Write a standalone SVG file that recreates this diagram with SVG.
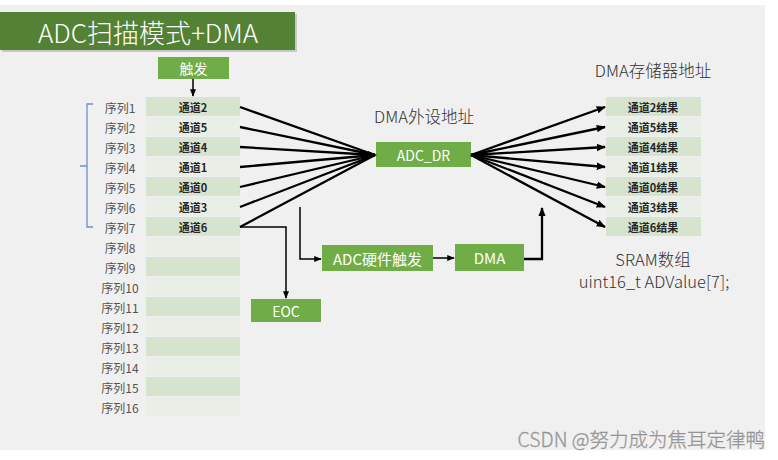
<svg xmlns="http://www.w3.org/2000/svg" width="778" height="460" viewBox="0 0 778 460">
<style>
.bg{fill:#f0f0f0}
.gbox{fill:#70ad47}
.wt{fill:#ffffff;font-family:"Noto Sans CJK SC","Liberation Sans",sans-serif;text-anchor:middle;dominant-baseline:central}
.lbl{fill:#555555;font-family:"Noto Sans CJK SC","Liberation Sans",sans-serif;font-size:12px;text-anchor:middle;dominant-baseline:central}
.cell{fill:#262626;font-family:"Noto Sans CJK SC","Liberation Sans",sans-serif;font-size:11px;font-weight:bold;text-anchor:middle;dominant-baseline:central}
.dark{fill:#d5e3cf}
.light{fill:#e9efe6}
.cap{fill:#333333;font-family:"Noto Sans CJK SC","Liberation Sans",sans-serif;font-size:16.5px;font-weight:300;text-anchor:middle}
.wm{fill:#a0a0a0;font-family:"Noto Sans CJK SC","Liberation Sans",sans-serif;font-size:19.5px;font-weight:300;text-anchor:end;stroke:#8a8a8a;stroke-width:0.3}
.ln{stroke:#000;stroke-width:2.3;fill:none}
.ln1{stroke:#000;stroke-width:1.5;fill:none}
</style>
<defs>
<marker id="ah" viewBox="0 0 10 10" refX="9" refY="5" markerWidth="4" markerHeight="4" orient="auto" markerUnits="strokeWidth">
<path d="M0,1 L10,5 L0,9 z" fill="#000"/>
</marker>
<marker id="ah2" viewBox="0 0 10 10" refX="9" refY="5" markerWidth="5" markerHeight="5" orient="auto" markerUnits="strokeWidth">
<path d="M0,1 L10,5 L0,9 z" fill="#000"/>
</marker>
</defs>
<rect x="0" y="0" width="778" height="460" fill="#ffffff"/>
<rect class="bg" x="0" y="5" width="765" height="445"/>

<g id="title">
<rect x="2" y="14" width="295" height="38" fill="#c8c8c8"/>
<rect x="0" y="12" width="295" height="38" fill="#548235"/>
<text class="wt" x="148" y="31" font-size="26" font-weight="300">ADC扫描模式+DMA</text>
</g>

<g id="trigger">
<rect class="gbox" x="158" y="57" width="71" height="22"/>
<text class="wt" x="193.5" y="68" font-size="14">触发</text>
</g>

<g id="bracket">
<path d="M93,104 H87 V227 H93 M87,166 H80" stroke="#6f8fd0" stroke-width="1.3" fill="none"/>
</g>

<g id="sequence-table">
<rect class="dark" x="146" y="97" width="94" height="19"/>
<rect class="light" x="146" y="117" width="94" height="19"/>
<rect class="dark" x="146" y="137" width="94" height="19"/>
<rect class="light" x="146" y="157" width="94" height="19"/>
<rect class="dark" x="146" y="177" width="94" height="19"/>
<rect class="light" x="146" y="197" width="94" height="19"/>
<rect class="dark" x="146" y="217" width="94" height="19"/>
<rect class="light" x="146" y="237" width="94" height="19"/>
<rect class="dark" x="146" y="257" width="94" height="19"/>
<rect class="light" x="146" y="277" width="94" height="19"/>
<rect class="dark" x="146" y="297" width="94" height="19"/>
<rect class="light" x="146" y="317" width="94" height="19"/>
<rect class="dark" x="146" y="337" width="94" height="19"/>
<rect class="light" x="146" y="357" width="94" height="19"/>
<rect class="dark" x="146" y="377" width="94" height="19"/>
<rect class="light" x="146" y="397" width="94" height="19"/>
<text class="cell" x="193" y="107">通道2</text>
<text class="cell" x="193" y="127">通道5</text>
<text class="cell" x="193" y="147">通道4</text>
<text class="cell" x="193" y="167">通道1</text>
<text class="cell" x="193" y="187">通道0</text>
<text class="cell" x="193" y="207">通道3</text>
<text class="cell" x="193" y="227">通道6</text>
<text class="lbl" x="120" y="107">序列1</text>
<text class="lbl" x="120" y="127">序列2</text>
<text class="lbl" x="120" y="147">序列3</text>
<text class="lbl" x="120" y="167">序列4</text>
<text class="lbl" x="120" y="187">序列5</text>
<text class="lbl" x="120" y="207">序列6</text>
<text class="lbl" x="120" y="227">序列7</text>
<text class="lbl" x="120" y="247">序列8</text>
<text class="lbl" x="120" y="267">序列9</text>
<text class="lbl" x="120" y="287">序列10</text>
<text class="lbl" x="120" y="307">序列11</text>
<text class="lbl" x="120" y="327">序列12</text>
<text class="lbl" x="120" y="347">序列13</text>
<text class="lbl" x="120" y="367">序列14</text>
<text class="lbl" x="120" y="387">序列15</text>
<text class="lbl" x="120" y="407">序列16</text>
</g>

<g id="adc-dr">
<text class="cap" x="424" y="123">DMA外设地址</text>
<rect class="gbox" x="376" y="142" width="95" height="25"/>
<text class="wt" x="423.5" y="154.5" font-size="14">ADC_DR</text>
</g>

<g id="result-table">
<text class="cap" x="653" y="77">DMA存储器地址</text>
<rect class="dark" x="606" y="97" width="95" height="19"/>
<rect class="light" x="606" y="117" width="95" height="19"/>
<rect class="dark" x="606" y="137" width="95" height="19"/>
<rect class="light" x="606" y="157" width="95" height="19"/>
<rect class="dark" x="606" y="177" width="95" height="19"/>
<rect class="light" x="606" y="197" width="95" height="19"/>
<rect class="dark" x="606" y="217" width="95" height="19"/>
<text class="cell" x="653" y="107">通道2结果</text>
<text class="cell" x="653" y="127">通道5结果</text>
<text class="cell" x="653" y="147">通道4结果</text>
<text class="cell" x="653" y="167">通道1结果</text>
<text class="cell" x="653" y="187">通道0结果</text>
<text class="cell" x="653" y="207">通道3结果</text>
<text class="cell" x="653" y="227">通道6结果</text>
<text class="cap" x="653" y="266" font-size="14.5">SRAM数组</text>
<text class="cap" x="654" y="288" font-size="14.5">uint16_t ADValue[7];</text>
</g>

<g id="adc-hw-trigger">
<rect class="gbox" x="322" y="245" width="111" height="26"/>
<text class="wt" x="377.5" y="258" font-size="15">ADC硬件触发</text>
</g>

<g id="dma">
<rect class="gbox" x="455" y="244" width="69" height="27"/>
<text class="wt" x="489.5" y="257.5" font-size="15">DMA</text>
</g>

<g id="eoc">
<rect class="gbox" x="251" y="299" width="70" height="23"/>
<text class="wt" x="286" y="310.5" font-size="14">EOC</text>
</g>

<g id="connectors">
<line class="ln1" x1="193" y1="79" x2="193" y2="96" marker-end="url(#ah2)"/>
<line class="ln" x1="240" y1="107" x2="375" y2="155"/>
<line class="ln" x1="240" y1="127" x2="375" y2="155"/>
<line class="ln" x1="240" y1="147" x2="375" y2="155"/>
<line class="ln" x1="240" y1="167" x2="375" y2="155"/>
<line class="ln" x1="240" y1="187" x2="375" y2="155"/>
<line class="ln" x1="240" y1="207" x2="375" y2="155"/>
<line class="ln" x1="240" y1="227" x2="375" y2="155"/>
<path d="M368,151 L377,155 L368,159 z" fill="#000"/>
<line class="ln" x1="471" y1="155" x2="605" y2="107" marker-end="url(#ah)"/>
<line class="ln" x1="471" y1="155" x2="605" y2="127" marker-end="url(#ah)"/>
<line class="ln" x1="471" y1="155" x2="605" y2="147" marker-end="url(#ah)"/>
<line class="ln" x1="471" y1="155" x2="605" y2="167" marker-end="url(#ah)"/>
<line class="ln" x1="471" y1="155" x2="605" y2="187" marker-end="url(#ah)"/>
<line class="ln" x1="471" y1="155" x2="605" y2="207" marker-end="url(#ah)"/>
<line class="ln" x1="471" y1="155" x2="605" y2="227" marker-end="url(#ah)"/>
<path class="ln1" d="M240,227 H286 V298" marker-end="url(#ah2)"/>
<path class="ln1" d="M300,207 V259 H321" marker-end="url(#ah2)"/>
<line class="ln1" x1="433" y1="258" x2="454" y2="258" marker-end="url(#ah2)"/>
<path class="ln" d="M524,259 H542 V208" marker-end="url(#ah)"/>
</g>

<text class="wm" x="765" y="447">CSDN @努力成为焦耳定律鸭</text>
</svg>
